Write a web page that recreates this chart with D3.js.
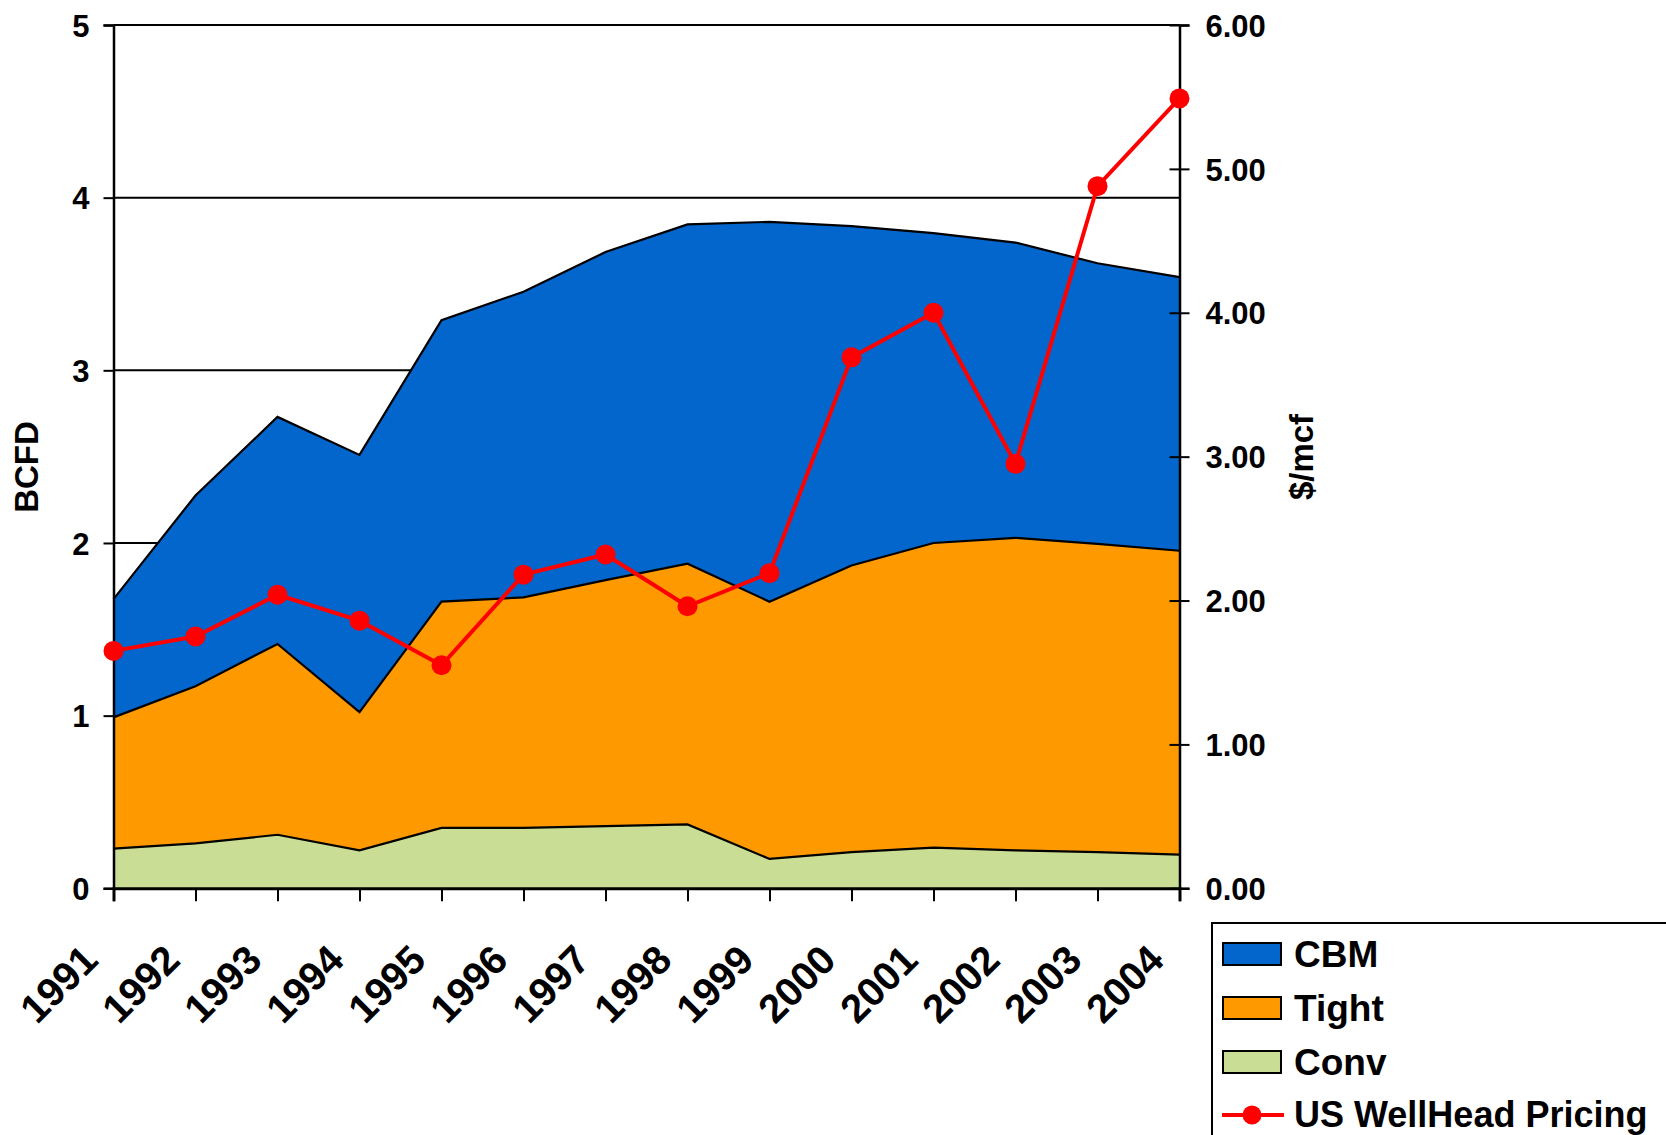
<!DOCTYPE html>
<html>
<head>
<meta charset="utf-8">
<script src="https://cdn.jsdelivr.net/npm/d3@7"></script>
<style>
  html, body { margin: 0; padding: 0; background: #fff; overflow: hidden; }
  svg { display: block; }
  text { font-family: "Liberation Sans", Arial, sans-serif; font-weight: bold; fill: #000; }
</style>
</head>
<body>
<svg id="chart" width="1666" height="1135"></svg>
<script>
// ---- data ----
const years = [1991,1992,1993,1994,1995,1996,1997,1998,1999,2000,2001,2002,2003,2004];
const conv  = [0.23,0.26,0.31,0.22,0.35,0.35,0.36,0.37,0.17,0.21,0.235,0.22,0.21,0.195];
const tight = [0.76,0.91,1.105,0.80,1.31,1.335,1.425,1.51,1.49,1.66,1.765,1.81,1.785,1.76];
const cbm   = [0.685,1.105,1.315,1.49,1.63,1.77,1.90,1.965,2.20,1.965,1.795,1.71,1.625,1.585];
const price = [1.65,1.75,2.04,1.86,1.55,2.18,2.32,1.96,2.19,3.69,4.00,2.95,4.88,5.49];
const leftTicks = [0,1,2,3,4,5];
const rightTicks = [0,1,2,3,4,5,6];
const seriesNames = ["Conv","Tight","CBM"];
const seriesColors = {CBM:"#0366CC", Tight:"#FF9900", Conv:"#C9DD94"};
const priceColor = "#FF0000";
const legendItems = ["CBM","Tight","Conv","US WellHead Pricing"];

// ---- layout ----
const L = 113.5, R = 1179.5, T = 25, B = 888.3;
const svg = d3.select("#chart");

const x = d3.scalePoint().domain(years).range([L, R]);
const yL = d3.scaleLinear().domain([0,5]).range([B, T]);
const yR = d3.scaleLinear().domain([0,6]).range([B, T]);

const rows = years.map((yr,i) => ({year: yr, Conv: conv[i], Tight: tight[i], CBM: cbm[i]}));
const stack = d3.stack().keys(seriesNames)(rows);

// gridlines
svg.append("g").selectAll("line").data(leftTicks.filter(d => d > 0)).join("line")
  .attr("x1", L).attr("x2", R).attr("y1", d => yL(d)).attr("y2", d => yL(d))
  .attr("stroke", "#000").attr("stroke-width", 2);

// areas
const area = d3.area().x((d,i) => x(years[i])).y0(d => yL(d[0])).y1(d => yL(d[1]));
const topLine = d3.line().x((d,i) => x(years[i])).y(d => yL(d[1]));
svg.append("g").selectAll("path").data(stack).join("path")
  .attr("d", area).attr("fill", d => seriesColors[d.key]).attr("stroke", "none");
svg.append("g").selectAll("path").data(stack).join("path")
  .attr("d", topLine).attr("fill", "none").attr("stroke", "#000").attr("stroke-width", 2.2);

// left axis
const axL = d3.axisLeft(yL).tickValues(leftTicks).tickSize(10).tickPadding(14).tickFormat(d3.format("d"));
const gL = svg.append("g").attr("transform", `translate(${L},0)`).call(axL);
gL.select(".domain").attr("stroke", "#000").attr("stroke-width", 2.5);
gL.selectAll(".tick line").attr("stroke", "#000").attr("stroke-width", 2);
gL.selectAll(".tick text").style("font-size", "31px").attr("dy", "0.36em");

// right axis (cross ticks)
const axR = d3.axisRight(yR).tickValues(rightTicks).tickSize(10).tickPadding(16).tickFormat(d3.format(".2f"));
const gR = svg.append("g").attr("transform", `translate(${R},0)`).call(axR);
gR.select(".domain").attr("stroke", "#000").attr("stroke-width", 2.5);
gR.selectAll(".tick line").attr("x1", -10).attr("x2", 10).attr("stroke", "#000").attr("stroke-width", 2);
gR.selectAll(".tick text").style("font-size", "31px").attr("dy", "0.36em");

// bottom axis
const axB = d3.axisBottom(x).tickSize(13).tickFormat(d3.format("d"));
const gB = svg.append("g").attr("transform", `translate(0,${B})`).call(axB);
gB.select(".domain").attr("stroke", "#000").attr("stroke-width", 3);
gB.selectAll(".tick line").attr("stroke", "#000").attr("stroke-width", 2);
gB.selectAll(".tick text")
  .style("font-size", "40px")
  .attr("text-anchor", "end")
  .attr("y", 0).attr("dy", 0)
  .attr("transform", "translate(-14,74) rotate(-45)");

// price line
const priceLine = d3.line().x((d,i) => x(years[i])).y(d => yR(d));
svg.append("path").datum(price).attr("d", priceLine)
  .attr("fill", "none").attr("stroke", priceColor).attr("stroke-width", 4);
svg.append("g").selectAll("circle").data(price).join("circle")
  .attr("cx", (d,i) => x(years[i])).attr("cy", d => yR(d)).attr("r", 10).attr("fill", priceColor);

// axis titles
svg.append("text").attr("transform", "translate(38,467) rotate(-90)")
  .attr("text-anchor", "middle").style("font-size", "33px").text("BCFD");
svg.append("text").attr("transform", "translate(1313,457) rotate(-90)")
  .attr("text-anchor", "middle").style("font-size", "33px").text("$/mcf");

// legend
const lg = svg.append("g");
lg.append("rect").attr("x", 1212).attr("y", 923).attr("width", 520).attr("height", 260)
  .attr("fill", "#fff").attr("stroke", "#000").attr("stroke-width", 2);
const rowY = [954, 1008, 1062, 1115];
legendItems.forEach((name, i) => {
  const cy = rowY[i];
  if (i < 3) {
    lg.append("rect").attr("x", 1223).attr("y", cy - 11).attr("width", 58).attr("height", 22)
      .attr("fill", seriesColors[name]).attr("stroke", "#000").attr("stroke-width", 2);
  } else {
    lg.append("line").attr("x1", 1222).attr("x2", 1284).attr("y1", cy).attr("y2", cy)
      .attr("stroke", priceColor).attr("stroke-width", 4);
    lg.append("circle").attr("cx", 1252).attr("cy", cy).attr("r", 9.5).attr("fill", priceColor);
  }
  lg.append("text").attr("x", 1294).attr("y", cy).attr("dy", "0.34em")
    .style("font-size", i < 3 ? "37px" : "36px").text(name);
});
</script>
</body>
</html>
